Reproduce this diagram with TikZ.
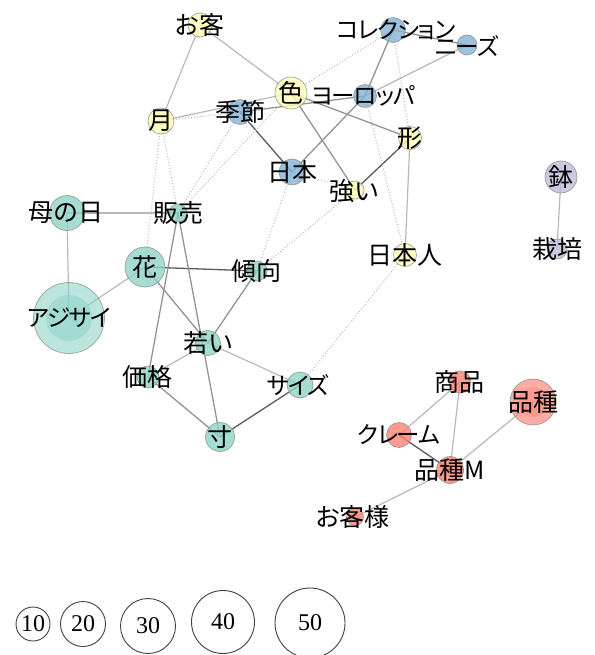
\documentclass[tikz,border=0pt]{standalone}
\usepackage{fontspec}
\setmainfont{Liberation Serif}
\newfontfamily\jp[RawFeature=+palt]{Noto Sans CJK JP}
\newfontfamily\jpk[RawFeature=+palt,LetterSpace=-5]{Noto Sans CJK JP}
\definecolor{cteal}{HTML}{8DD3C7}
\definecolor{cylw}{HTML}{FFFFB3}
\definecolor{cblu}{HTML}{80B1D3}
\definecolor{csal}{HTML}{FB8072}
\definecolor{clav}{HTML}{BEBADA}
\definecolor{eA}{HTML}{B8B8B8}
\definecolor{eB}{HTML}{939393}
\definecolor{eC}{HTML}{5A5A5A}
\tikzset{
  eone/.style={draw=eA,line width=1.2pt},
  etwo/.style={draw=eB,line width=1.3pt},
  ethree/.style={draw=eC,line width=1.3pt},
  edot/.style={draw=eA,line width=1pt,dotted},
  ncirc/.style={circle,inner sep=0pt,draw=black!45,line width=0.7pt,fill opacity=0.78,draw opacity=0.8},
  lbl/.style={inner sep=0pt,font=\jp\fontsize{25}{25}\selectfont},
  klbl/.style={inner sep=0pt,font=\jpk\fontsize{23.5}{23.5}\selectfont},
  legc/.style={circle,inner sep=0pt,draw=black!75,line width=0.9pt,font=\fontsize{24}{24}\selectfont},
}
\begin{document}
\begin{tikzpicture}[x=1pt,y=-1pt]
\useasboundingbox (0,0) rectangle (594,655);
% centres
\coordinate (okyaku) at (200,25);
\coordinate (tsuki) at (161,121);
\coordinate (iro) at (291,93);
\coordinate (kisetsu) at (240,112);
\coordinate (nihon) at (292,172);
\coordinate (tsuyoi) at (355,190);
\coordinate (europe) at (365,96);
\coordinate (coll) at (393,30);
\coordinate (needs) at (467,45);
\coordinate (katachi) at (410,138);
\coordinate (nihonjin) at (405,255);
\coordinate (hachi) at (561,177);
\coordinate (saibai) at (557,249);
\coordinate (haha) at (67,213);
\coordinate (hanbai) at (178,213);
\coordinate (hana) at (145,267);
\coordinate (keikou) at (257,271);
\coordinate (ajisai) at (69,318);
\coordinate (wakai) at (208,343);
\coordinate (kakaku) at (148,377);
\coordinate (size) at (300,385);
\coordinate (sun) at (220,437);
\coordinate (shouhin) at (460,382);
\coordinate (hinshu) at (533,402);
\coordinate (claim) at (399,435);
\coordinate (hinshuM) at (450,470);
\coordinate (okyakusama) at (355,517);
% edges
\draw[eone] (okyaku) -- (tsuki);
\draw[eone] (okyaku) -- (iro);
\draw[eone] (tsuki) -- (iro);
\draw[edot] (tsuki) -- (kisetsu);
\draw[etwo] (kisetsu) -- (europe);
\draw[ethree] (kisetsu) -- (nihon);
\draw[etwo] (nihon) -- (europe);
\draw[etwo] (europe) -- (coll);
\draw[eone] (europe) -- (needs);
\draw[etwo] (coll) -- (needs);
\draw[etwo] (iro) -- (katachi);
\draw[etwo] (iro) -- (tsuyoi);
\draw[ethree] (tsuyoi) -- (katachi);
\draw[eone] (katachi) -- (nihonjin);
\draw[edot] (nihon) -- (tsuyoi);
\draw[edot] (coll) -- (katachi);
\draw[edot] (europe) -- (nihonjin);
\draw[edot] (iro) -- (coll);
\draw[edot] (tsuki) -- (hana);
\draw[edot] (tsuki) -- (hanbai);
\draw[edot] (kisetsu) -- (hanbai);
\draw[edot] (iro) -- (hanbai);
\draw[edot] (nihon) -- (keikou);
\draw[edot] (tsuyoi) -- (keikou);
\draw[edot] (nihonjin) -- (size);
\draw[eone] (hanbai) -- (haha);
\draw[eone] (haha) -- (ajisai);
\draw[eone] (ajisai) -- (hana);
\draw[ethree] (hana) -- (keikou);
\draw[etwo] (hana) -- (wakai);
\draw[etwo] (hanbai) -- (kakaku);
\draw[etwo] (hanbai) -- (sun);
\draw[etwo] (keikou) -- (wakai);
\draw[eone] (wakai) -- (kakaku);
\draw[eone] (wakai) -- (size);
\draw[etwo] (kakaku) -- (sun);
\draw[ethree] (sun) -- (size);
\draw[eone] (hachi) -- (saibai);
\draw[eone] (shouhin) -- (claim);
\draw[eone] (shouhin) -- (hinshuM);
\draw[ethree] (claim) -- (hinshuM);
\draw[eone] (hinshu) -- (hinshuM);
\draw[eone] (hinshuM) -- (okyakusama);
% circles
\node[ncirc,fill=cylw,minimum size=24pt] (okyakuC) at (okyaku) {};
\node[ncirc,fill=cylw,minimum size=26pt] (tsukiC) at (tsuki) {};
\node[ncirc,fill=cylw,minimum size=32pt] (iroC) at (iro) {};
\node[ncirc,fill=cblu,minimum size=25pt] (kisetsuC) at (kisetsu) {};
\node[ncirc,fill=cblu,minimum size=26pt] (nihonC) at (nihon) {};
\node[ncirc,fill=cylw,minimum size=18pt] (tsuyoiC) at (tsuyoi) {};
\node[ncirc,fill=cblu,minimum size=23pt] (europeC) at (europe) {};
\node[ncirc,fill=cblu,minimum size=25pt] (collC) at (coll) {};
\node[ncirc,fill=cblu,minimum size=20pt] (needsC) at (needs) {};
\node[ncirc,fill=cylw,minimum size=23pt] (katachiC) at (katachi) {};
\node[ncirc,fill=cylw,minimum size=23pt] (nihonjinC) at (nihonjin) {};
\node[ncirc,fill=clav,minimum size=32pt] (hachiC) at (hachi) {};
\node[ncirc,fill=clav,minimum size=20pt] (saibaiC) at (saibai) {};
\node[ncirc,fill=cteal,minimum size=35pt] (hahaC) at (haha) {};
\node[ncirc,fill=cteal,minimum size=18pt] (hanbaiC) at (hanbai) {};
\node[ncirc,fill=cteal,minimum size=40pt] (hanaC) at (hana) {};
\node[ncirc,fill=cteal,minimum size=20pt] (keikouC) at (keikou) {};
\node[ncirc,fill=cteal,fill opacity=0.6,minimum size=71pt] (ajisaiC) at (ajisai) {};
\node[circle,inner sep=0pt,fill=cteal,fill opacity=0.55,minimum size=46pt] (ajisaiI) at (ajisai) {};
\node[ncirc,fill=cteal,minimum size=25pt] (wakaiC) at (wakai) {};
\node[ncirc,fill=cteal,minimum size=22pt] (kakakuC) at (kakaku) {};
\node[ncirc,fill=cteal,minimum size=26pt] (sizeC) at (size) {};
\node[ncirc,fill=cteal,minimum size=29pt] (sunC) at (sun) {};
\node[ncirc,fill=csal,minimum size=22pt] (shouhinC) at (shouhin) {};
\node[ncirc,fill=csal,fill opacity=0.65,minimum size=46pt] (hinshuC) at (hinshu) {};
\node[circle,inner sep=0pt,fill=csal,fill opacity=0.4,minimum size=30pt] (hinshuI) at (hinshu) {};
\node[ncirc,fill=csal,minimum size=25pt] (claimC) at (claim) {};
\node[ncirc,fill=csal,minimum size=27pt] (hinshuMC) at (hinshuM) {};
\node[ncirc,fill=csal,minimum size=17pt] (okyakusamaC) at (okyakusama) {};
% labels
\node[lbl] (okyakuL) at (okyaku) {お客};
\node[lbl] (tsukiL) at (tsuki) {月};
\node[lbl] (iroL) at (iro) {色};
\node[lbl] (kisetsuL) at (kisetsu) {季節};
\node[lbl] (nihonL) at (nihon) {日本};
\node[lbl] (tsuyoiL) at (354,191) {強い};
\node[klbl] (europeL) at (363,96) {ヨーロッパ};
\node[klbl] (collL) at (396,30) {コレクション};
\node[klbl] (needsL) at (467,46) {ニーズ};
\node[lbl] (katachiL) at (katachi) {形};
\node[lbl] (nihonjinL) at (nihonjin) {日本人};
\node[lbl] (hachiL) at (hachi) {鉢};
\node[lbl] (saibaiL) at (saibai) {栽培};
\node[lbl] (hahaL) at (66,213) {母の日};
\node[lbl] (hanbaiL) at (hanbai) {販売};
\node[lbl] (hanaL) at (hana) {花};
\node[lbl] (keikouL) at (256,271) {傾向};
\node[klbl] (ajisaiL) at (ajisai) {アジサイ};
\node[lbl] (wakaiL) at (wakai) {若い};
\node[lbl] (kakakuL) at (147,377) {価格};
\node[klbl] (sizeL) at (298,385) {サイズ};
\node[lbl] (sunL) at (sun) {寸};
\node[lbl] (shouhinL) at (459,382) {商品};
\node[lbl] (hinshuL) at (hinshu) {品種};
\node[klbl] (claimL) at (399,435) {クレーム};
\node[lbl] (hinshuML) at (hinshuM) {品種M};
\node[lbl] (okyakusamaL) at (353,517) {お客様};
% legend
\node[legc,minimum size=34pt] (leg10) at (33,624) {10};
\node[legc,minimum size=45pt] (leg20) at (83,624) {20};
\node[legc,minimum size=55pt] (leg30) at (148,626) {30};
\node[legc,minimum size=63pt] (leg40) at (223,622) {40};
\node[legc,minimum size=70pt] (leg50) at (310,623) {50};
\end{tikzpicture}
\end{document}
